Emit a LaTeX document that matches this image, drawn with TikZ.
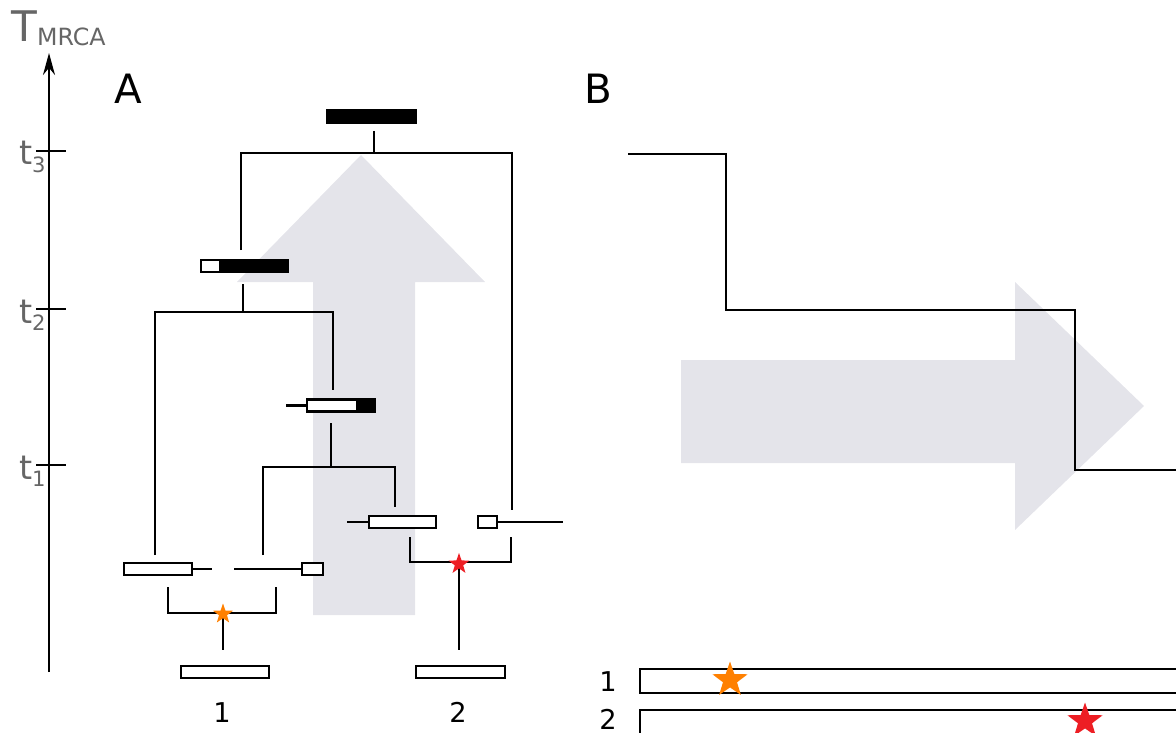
\documentclass[tikz,border=0pt]{standalone}
\usepackage{fontspec}
\setmainfont{DejaVu Sans}
\usetikzlibrary{arrows.meta,shapes.geometric}
\definecolor{arrowgray}{RGB}{228,228,234}
\definecolor{labelgray}{RGB}{102,102,102}
\definecolor{starorange}{RGB}{255,128,0}
\definecolor{starred}{RGB}{237,30,36}
\begin{document}
\begin{tikzpicture}[x=0.02cm, y=-0.02cm, line join=miter, >={Stealth[length=0.44cm,width=0.24cm]}]
		\tikzset{branch/.style={line width=1.4pt},
			seqbar/.style={draw, fill=white, line width=1.4pt, inner sep=0pt, minimum height=0.24cm},
			mutation/.style={star, star points=5, star point ratio=2.5, inner sep=0pt, draw=none},
			timelabel/.style={text=labelgray, anchor=base east, inner sep=0pt, font=\fontsize{19}{19}\selectfont},
			panel/.style={anchor=base, inner sep=0pt, font=\fontsize{23}{23}\selectfont},
			seqlabel/.style={anchor=base, inner sep=0pt, font=\fontsize{15.5}{15.5}\selectfont}}
		\useasboundingbox (0,0) rectangle (1176,733);
		% shaded arrows behind both panels
		\fill[arrowgray] (313,615) -- (313,282) -- (237,282) -- (361,155) -- (485,282) -- (415,282) -- (415,615) -- cycle;
		\fill[arrowgray] (681,360) -- (1015,360) -- (1015,282) -- (1144,406) -- (1015,530) -- (1015,463) -- (681,463) -- cycle;
		% time axis
		\draw[line width=1.1pt,->] (49,672) -- (49,53);
		\foreach \y/\t in {151/3,309/2,465/1}{
			\draw[line width=1.1pt] (36,\y) -- (66,\y);
			\node[timelabel] (t\t) at (46,\y+14) {t\raisebox{-4pt}{\fontsize{12}{12}\selectfont\t}};
		}
		\node[anchor=base west, inner sep=0pt, text=labelgray] (tmrca) at (11,42) {\fontsize{24}{24}\selectfont T\raisebox{-2pt}{\fontsize{13.5}{13.5}\selectfont MRCA}};
		\node[panel] (panelA) at (128,104) {A};
		\node[panel] (panelB) at (598,104) {B};
		% A: genealogy
		\node[seqbar, fill=black, minimum width=1.78cm, minimum height=0.26cm] (root) at (371.5,116.5) {};
		\draw[branch] (374,131) -- (374,153);
		\draw[branch] (241,250) |- (512,153) -- (512,510);
		\node[seqbar, minimum width=1.74cm] (anc2) at (244.5,266) {};
		\fill (anc2.north east) rectangle ([xshift=0.38cm]anc2.south west);
		\draw[branch] (243,284) -- (243,312);
		\draw[branch] (155,555) |- (333,312) -- (333,390);
		\node[seqbar, minimum width=1.36cm] (anc1) at (341,405.5) {};
		\fill (anc1.north east) rectangle ([xshift=-0.4cm]anc1.south east);
		\draw[branch] (286,405.5) -- (anc1.west);
		\draw[branch] (331,423) -- (331,467);
		\draw[branch] (263,555) |- (395,467) -- (395,507);
		% recombining pair, sample 1
		\node[seqbar, minimum width=1.36cm] (s1a) at (158,569) {};
		\node[seqbar, minimum width=0.42cm] (s1b) at (312.5,569) {};
		\draw[branch] (s1a.east) -- (212,569);
		\draw[branch] (234,569) -- (s1b.west);
		\draw[branch] (168,587) |- (276,613) -- (276,587);
		\draw[branch] (223,613) -- (223,650);
		\node[mutation, fill=starorange, minimum size=0.42cm] (mut1) at (223,614) {};
		% recombining pair, sample 2
		\node[seqbar, minimum width=1.34cm] (s2a) at (402.5,522) {};
		\node[seqbar, minimum width=0.38cm] (s2b) at (487.5,522) {};
		\draw[branch] (347,522) -- (s2a.west);
		\draw[branch] (s2b.east) -- (563,522);
		\draw[branch] (410,537) |- (511,562) -- (511,537);
		\draw[branch] (459,562) -- (459,650);
		\node[mutation, fill=starred, minimum size=0.44cm] (mut2) at (459,564) {};
		% samples
		\node[seqbar, minimum width=1.76cm] (leaf1) at (225,672) {};
		\node[seqbar, minimum width=1.78cm] (leaf2) at (460.5,672) {};
		\node[seqlabel] (lab1) at (222,722) {1};
		\node[seqlabel] (lab2) at (458,722) {2};
		% B: TMRCA along the sequence
		\draw[branch] (628,154) -| (726,310) -| (1075,470) -- (1185,470);
		\draw[line width=1.4pt, fill=white] (640,669) rectangle (1190,693);
		\draw[line width=1.4pt, fill=white] (640,710) rectangle (1190,745);
		\node[seqlabel] (seq1) at (608,691) {1};
		\node[seqlabel] (seq2) at (608,729) {2};
		\node[mutation, fill=starorange, minimum size=0.74cm] (mut1b) at (730,680) {};
		\node[mutation, fill=starred, minimum size=0.74cm] (mut2b) at (1085,721) {};
\end{tikzpicture}
\end{document}
